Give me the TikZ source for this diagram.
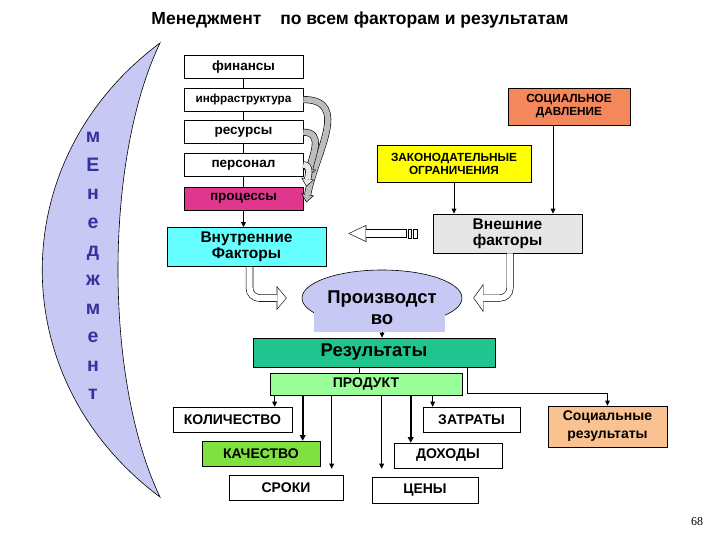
\documentclass[tikz,border=0pt]{standalone}
\usepackage{fontspec}
\setmainfont{Liberation Sans}
\newfontfamily\pagefont{Liberation Serif}
\usetikzlibrary{shapes.geometric, arrows.meta, positioning, calc}

\definecolor{moonFill}{HTML}{C8C8F5}
\definecolor{moonTxt}{HTML}{3333A0}
\definecolor{procFill}{HTML}{E0368E}
\definecolor{innerFill}{HTML}{66FFFF}
\definecolor{extFill}{HTML}{E6E6E6}
\definecolor{lawFill}{HTML}{FFFF00}
\definecolor{pressFill}{HTML}{F5875C}
\definecolor{resultFill}{HTML}{20C48E}
\definecolor{prodFill}{HTML}{99FF99}
\definecolor{qualFill}{HTML}{80E040}
\definecolor{socFill}{HTML}{FAC291}
\definecolor{bandFill}{HTML}{BDBDBD}
\definecolor{bandLight}{HTML}{E8E8E8}

\tikzset{
	base/.style={
		rectangle, draw=black, line width=0.6pt,
		align=center, inner sep=1pt, font=\bfseries
	},
	% left column boxes
	stack/.style={base, fill=white, minimum width=119pt, minimum height=23pt,
		font=\bfseries\fontsize{13.5}{15}\selectfont},
	% inner / outer factors
	factor/.style={base, minimum width=159pt, minimum height=39pt,
		font=\bfseries\fontsize{15.5}{16}\selectfont},
	% small caps boxes on the right
	outside/.style={base, minimum height=37pt,
		font=\bfseries\fontsize{11.8}{13}\selectfont},
	% bottom row of results
	leaf/.style={base, fill=white, minimum height=25pt,
		font=\bfseries\fontsize{14}{16}\selectfont},
	% arrow styles
	arr/.style={-{Triangle[length=5pt,width=5pt,line width=0pt]}, line width=0.6pt},
	arrbold/.style={-{Triangle[length=5.5pt,width=6pt,line width=0pt]}, line width=1.6pt},
	hollowout/.style n args={3}{draw=black, line width=#1,
		-{Triangle[length=#2,width=#3,line width=0pt]}},
	hollowin/.style n args={4}{draw=white, line width=#1,
		-{Triangle[length=#2,width=#3,line width=0pt]}, shorten >=#4},
	bandout/.style={draw=black, line width=7pt,
		-{Triangle[length=8pt,width=13pt,line width=0pt]}},
	bandin/.style={line width=5.8pt,
		-{Triangle[length=6.4pt,width=10.4pt,line width=0pt]}, shorten >=1pt},
	moonlbl/.style={align=center, text=moonTxt,
		font=\bfseries\fontsize{19.5}{28.6}\selectfont}
}

\begin{document}
\begin{tikzpicture}[x=1pt, y=1pt]
	\useasboundingbox (0,0) rectangle (720,-540);
	\fill[white] (0,0) rectangle (720,-540);

	%--- Title -------------------------------------------------------------
	\node[font=\bfseries\fontsize{17.5}{20}\selectfont] (title) at (360,-20)
	{Менеджмент\hspace{14pt} по всем факторам и результатам};

	%--- Crescent ----------------------------------------------------------
	\draw[fill=moonFill, line width=0.6pt]
	(160,-43) .. controls (3,-160) and (3,-380) .. (160,-497)
	.. controls (104,-380) and (104,-160) .. (160,-43) -- cycle;
	\node[moonlbl] (moon) at (93,-266) {м\\Е\\н\\е\\д\\ж\\м\\е\\н\\т};

	%--- Left column -------------------------------------------------------
	\node[stack] (fin) at (243.5,-67) {финансы};
	\node[stack, below=9pt of fin, font=\bfseries\fontsize{11.7}{13}\selectfont] (infra) {инфраструктура};
	\node[stack, below=9pt of infra] (resrc) {ресурсы};
	\node[stack, below=9pt of resrc] (pers) {персонал};
	\node[stack, below=10pt of pers, fill=procFill] (proc) {процессы};

	\draw[line width=0.6pt] (fin) -- (infra);
	\draw[line width=0.6pt] (infra) -- (resrc);
	\draw[line width=0.6pt] (resrc) -- (pers);
	\draw[line width=0.6pt] (pers) -- (proc);

	%--- Curved gray arrows into processes ---------------------------------
	\draw[bandout] (infra.east) to[out=0, in=80, looseness=1.2] ([xshift=3pt,yshift=-4pt]proc.east);
	\draw[bandin, draw=bandFill] (infra.east) to[out=0, in=80, looseness=1.2] ([xshift=3pt,yshift=-4pt]proc.east);
	\draw[bandout] (resrc.east) to[out=0, in=80, looseness=1.2] ([xshift=5pt]pers.south east);
	\draw[bandin, draw=bandFill] (resrc.east) to[out=0, in=80, looseness=1.2] ([xshift=5pt]pers.south east);
	\draw[bandout] (pers.east) to[out=0, in=80] ([xshift=3pt]proc.north east);
	\draw[bandin, draw=bandLight] (pers.east) to[out=0, in=80] ([xshift=3pt]proc.north east);

	%--- Factors -----------------------------------------------------------
	\node[factor, fill=innerFill, below=17pt of proc, xshift=3pt] (inner) {Внутренние\\Факторы};
	\node[factor, fill=extFill, minimum width=149pt] (ext) at (507.5,-233.5) {Внешние\\факторы};
	\node[outside, fill=lawFill, minimum width=154pt] (law) at (454,-163.5) {ЗАКОНОДАТЕЛЬНЫЕ\\ОГРАНИЧЕНИЯ};
	\node[outside, fill=pressFill, minimum width=122pt] (press) at (569,-106.5) {СОЦИАЛЬНОЕ\\ДАВЛЕНИЕ};

	\draw[arr] (proc.south) -- (proc.south |- inner.north);
	\draw[arr] (law.south) -- (law.south |- ext.north);
	\draw[arr] ([xshift=-16pt]press.south) -- ([xshift=-16pt]press.south |- ext.north);

	%--- Production --------------------------------------------------------
	\node[ellipse, draw=black, line width=0.6pt, fill=moonFill,
		minimum width=160pt, minimum height=56pt] (prodell) at (382,-298) {};
	\node[rectangle, fill=moonFill, minimum width=131pt, minimum height=34pt] (prodbox) at (379.5,-315) {};
	\node[align=center, font=\bfseries\fontsize{18.5}{21}\selectfont] (prodtxt) at (382,-308) {Производст\\во};

	%--- Hollow arrows -----------------------------------------------------
	\coordinate (hztail) at ([xshift=-26pt]ext.west);
	\coordinate (hztip) at ([xshift=22pt]inner.east |- ext.west);
	\draw[hollowout={8pt}{18pt}{17pt}] (hztail) -- (hztip);
	\draw[hollowin={6.8pt}{16pt}{15.1pt}{1.4pt}, shorten <=0.6pt] (hztail) -- (hztip);
	\draw[line width=0.6pt] ([xshift=1.5pt,yshift=-4.5pt]hztail) rectangle ++(3pt,9pt);
	\draw[line width=0.6pt] ([xshift=6.5pt,yshift=-4.5pt]hztail) rectangle ++(4pt,9pt);

	\draw[hollowout={7.5pt}{10pt}{24pt}, rounded corners=10pt]
	([xshift=3pt]inner.south) |- ([xshift=-15pt]prodell.west);
	\draw[hollowin={6.3pt}{8.6pt}{20.7pt}{0.8pt}, rounded corners=10pt]
	([xshift=3pt]inner.south) |- ([xshift=-15pt]prodell.west);

	\draw[hollowout={7pt}{10pt}{28pt}, rounded corners=10pt]
	([xshift=2.5pt]ext.south) |- ([xshift=11pt]prodell.east);
	\draw[hollowin={5.8pt}{8.7pt}{24.2pt}{0.75pt}, rounded corners=10pt]
	([xshift=2.5pt]ext.south) |- ([xshift=11pt]prodell.east);

	%--- Results -----------------------------------------------------------
	\node[base, fill=resultFill, minimum width=242pt, minimum height=29pt,
		font=\bfseries\fontsize{18.5}{20}\selectfont] (result) at (374,-352.5) {Результаты};
	\node[base, fill=prodFill, minimum width=192pt, minimum height=22pt,
		font=\bfseries\fontsize{14}{16}\selectfont] (prodct) at (366,-384) {ПРОДУКТ};
	\node[base, fill=socFill, minimum width=119pt, minimum height=41pt,
		font=\bfseries\fontsize{14}{18}\selectfont] (socres) at (607.5,-426.5) {Социальные\\результаты};

	\draw[arr] ([xshift=2.5pt]prodbox.south) -- ([xshift=2.5pt]prodbox.south |- result.north);
	\draw[line width=0.6pt] ([xshift=-7pt]prodct.north) -- ([xshift=-7pt]prodct.north |- result.south);
	\draw[arr] ([xshift=-28pt]result.south east) -- ++(0,-26pt) -| (socres.north);

	%--- Bottom leaves -----------------------------------------------------
	\node[leaf, minimum width=119pt] (qty) at (232.5,-419.5) {КОЛИЧЕСТВО};
	\node[leaf, minimum width=118pt, fill=qualFill] (qual) at (261,-453.5) {КАЧЕСТВО};
	\node[leaf, minimum width=114pt] (term) at (286,-487.5) {СРОКИ};
	\node[leaf, minimum width=97pt] (cost) at (471.5,-419.5) {ЗАТРАТЫ};
	\node[leaf, minimum width=108pt] (income) at (448,-455.5) {ДОХОДЫ};
	\node[leaf, minimum width=106pt, minimum height=26pt] (price) at (425,-490) {ЦЕНЫ};

	\draw[arr] ([xshift=5pt]prodct.south west) -- ([xshift=5pt]prodct.south west |- qty.north);
	\draw[arrbold] ([xshift=33pt]prodct.south west) -- ([xshift=33pt]prodct.south west |- qual.north);
	\draw[arr, shorten >=6pt] ([xshift=62pt]prodct.south west) -- ([xshift=62pt]prodct.south west |- term.north);
	\draw[arr, shorten >=8pt] ([xshift=112pt]prodct.south west) -- ([xshift=112pt]prodct.south west |- price.north);
	\draw[arrbold] ([xshift=141pt]prodct.south west) -- ([xshift=141pt]prodct.south west |- income.north);
	\draw[arr] ([xshift=163pt]prodct.south west) -- ([xshift=163pt]prodct.south west |- cost.north);

	%--- Page number -------------------------------------------------------
	\node[font=\pagefont\fontsize{12}{14}\selectfont] (pagenum) at (697,-522) {68};
\end{tikzpicture}
\end{document}
